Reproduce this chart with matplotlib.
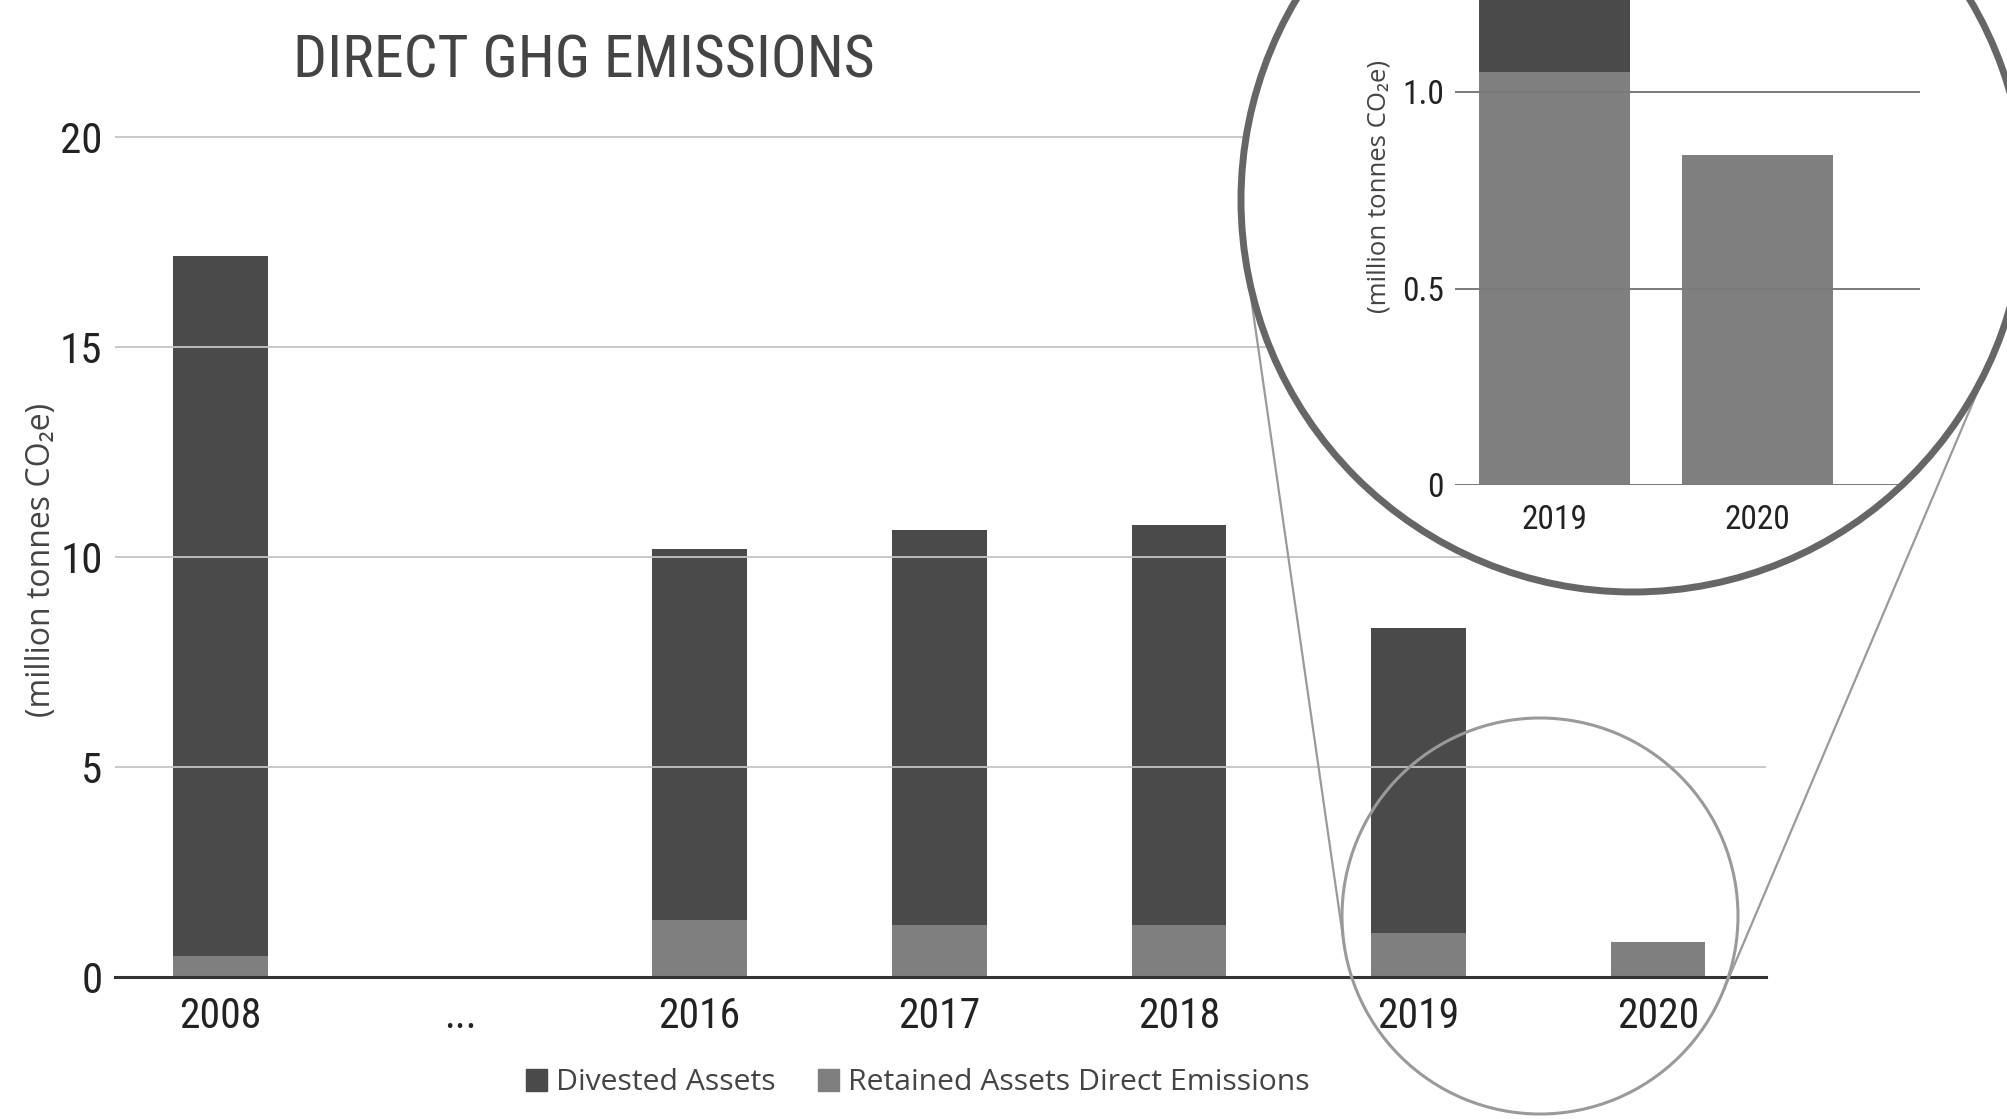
import numpy as np
import matplotlib
matplotlib.use('Agg')
import matplotlib.pyplot as plt
from matplotlib import font_manager
from matplotlib.patches import Circle
from matplotlib.transforms import Affine2D

# Data (million tonnes CO2e)
years = ['2008', '...', '2016', '2017', '2018', '2019', '2020']
retained = [0.49, 0, 1.36, 1.25, 1.25, 1.05, 0.84]
divested = [16.67, 0, 8.82, 9.39, 9.51, 7.27, 0]
zoom_years = ['2019', '2020']
zoom_retained = [1.05, 0.84]
zoom_divested = [7.27, 0]

DARK = '#4a4a4a'
GRAY = '#7f7f7f'

names = {f.name for f in font_manager.fontManager.ttflist}
NARROW = next((n for n in ['Roboto Condensed', 'Liberation Sans Narrow', 'DejaVu Sans']
               if n in names), 'DejaVu Sans')
SANS = ['Open Sans', 'DejaVu Sans']

W, H = 2007, 1119
fig = plt.figure(figsize=(W / 100, H / 100), dpi=100)
fig.patch.set_facecolor('white')

# pixel coords of the reference (y down) -> figure
px = Affine2D().scale(1 / 100, -1 / 100).translate(0, H / 100) + fig.dpi_scale_trans


def frac(x0, y0, x1, y1):
    return [x0 / W, 1 - y1 / H, (x1 - x0) / W, (y1 - y0) / H]


# ---- main chart ----
ytop = 20.2
ax = fig.add_axes(frac(115, 977 - ytop * 42, 1766, 977))
x = np.arange(len(years))
ax.bar(x, retained, width=0.395, color=GRAY, zorder=2)
ax.bar(x, divested, bottom=retained, width=0.395, color=DARK, zorder=2)
ax.set_xlim(-0.44, 6.45)
ax.set_ylim(0, ytop)
ax.set_yticks([0, 5, 10, 15, 20])
ax.set_yticklabels(['0', '5', '10', '15', '20'])
ax.set_xticks(x)
ax.set_xticklabels(years)
for s in ['top', 'right', 'left']:
    ax.spines[s].set_visible(False)
ax.spines['bottom'].set_color('#333333')
ax.spines['bottom'].set_linewidth(2.2)
ax.spines['bottom'].set_zorder(4)
ax.grid(axis='y', color='#c4c4c4', linewidth=1.3, zorder=3)
ax.set_axisbelow(False)
ax.tick_params(length=0)
ax.tick_params(axis='y', pad=9, labelsize=31, labelcolor='#222222')
ax.tick_params(axis='x', pad=14, labelsize=30, labelcolor='#222222')
for lab in ax.get_xticklabels() + ax.get_yticklabels():
    lab.set_family(NARROW)
ax.set_ylabel('(million tonnes CO₂e)', family=SANS, fontsize=23, color='#444444')
ax.yaxis.set_label_coords(58 / W, 0.5, transform=fig.transFigure)

fig.text(584 / W, 1 - 77 / H, 'DIRECT GHG EMISSIONS', family=NARROW, fontsize=43,
         color='#444444', ha='center', va='baseline')

# legend
h1 = plt.Rectangle((0, 0), 1, 1, color=DARK)
h2 = plt.Rectangle((0, 0), 1, 1, color=GRAY)
fig.legend([h1, h2], ['Divested Assets', 'Retained Assets Direct Emissions'],
           loc='center', bbox_to_anchor=(918 / W, 1 - 1083 / H), ncol=2, frameon=False,
           prop={'family': SANS, 'size': 21.7}, handlelength=0.7, handleheight=0.7,
           handletextpad=0.3, columnspacing=1.4, labelcolor='#444444')

# ---- magnifier circles ----
big_c, big_r = (1633, 200), 392
small_c, small_r = (1540, 916), 198


def ext_tangents(c1, r1, c2, r2):
    c1, c2 = np.array(c1, float), np.array(c2, float)
    d = c2 - c1
    L = np.hypot(*d)
    u = d / L
    perp = np.array([-u[1], u[0]])
    ca = (r1 - r2) / L
    sa = np.sqrt(1 - ca ** 2)
    out = []
    for sgn in (1, -1):
        n = ca * u + sgn * sa * perp
        out.append((c1 + r1 * n, c2 + r2 * n))
    return out


for p1, p2 in ext_tangents(big_c, big_r, small_c, small_r):
    fig.add_artist(plt.Line2D([p1[0], p2[0]], [p1[1], p2[1]], transform=px,
                              color='#9a9a9a', linewidth=1.6, zorder=5))
fig.add_artist(Circle(small_c, small_r, transform=px, facecolor='none',
                      edgecolor='#9a9a9a', linewidth=2.2, zorder=5))
fig.add_artist(Circle(big_c, big_r, transform=px, facecolor='white',
                      edgecolor='none', zorder=6))
fig.add_artist(Circle(big_c, big_r, transform=px, facecolor='none',
                      edgecolor='#666666', linewidth=5, zorder=9))

# ---- zoomed inset ----
clip = Circle(big_c, big_r - 2, transform=px)
itop = 485 / 393
iax = fig.add_axes(frac(1455, 0, 1920, 485), zorder=8)
iax.patch.set_visible(False)
xi = np.arange(len(zoom_years))
b1 = iax.bar(xi, zoom_retained, width=0.744, color=GRAY, zorder=2)
b2 = iax.bar(xi, zoom_divested, bottom=zoom_retained, width=0.744, color=DARK, zorder=2)
iax.set_xlim(-0.488, 1.80)
iax.set_ylim(0, itop)
iax.set_yticks([0, 0.5, 1.0])
iax.set_yticklabels(['0', '0.5', '1.0'])
iax.set_xticks(xi)
iax.set_xticklabels(zoom_years)
for s in ['top', 'right', 'left']:
    iax.spines[s].set_visible(False)
iax.spines['bottom'].set_color('#bbbbbb')
iax.spines['bottom'].set_linewidth(2)
iax.grid(axis='y', color='#7a7a7a', linewidth=1.4, zorder=3)
iax.set_axisbelow(False)
iax.tick_params(length=0)
iax.tick_params(axis='y', pad=8, labelsize=24, labelcolor='#222222')
iax.tick_params(axis='x', pad=14, labelsize=24, labelcolor='#222222')
for lab in iax.get_xticklabels() + iax.get_yticklabels():
    lab.set_family(NARROW)
iax.set_ylabel('(million tonnes CO₂e)', family=SANS, fontsize=18.5, color='#444444')
iax.yaxis.set_label_coords(1392 / W, 1 - 186 / H, transform=fig.transFigure)
for art in list(b1) + list(b2) + iax.get_ygridlines() + [iax.spines['bottom']]:
    art.set_clip_path(clip)

fig.savefig('out.png', dpi=100, facecolor='white')
